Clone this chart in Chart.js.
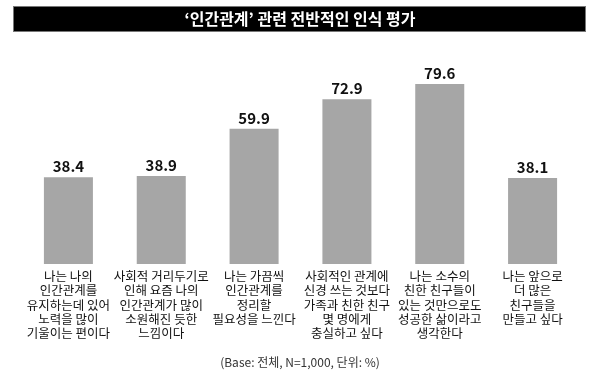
<!DOCTYPE html>
<html>
<head>
<meta charset="utf-8">
<script src="https://cdn.jsdelivr.net/npm/chart.js@4/dist/chart.umd.min.js"></script>
<style>
html,body{margin:0;padding:0;background:#fff;}
#wrap{width:600px;height:384px;position:relative;}
</style>
</head>
<body>
<div id="wrap"><canvas id="c" width="600" height="384"></canvas></div>
<script>
const titleText = "‘인간관계’ 관련 전반적인 인식 평가";
const footnoteText = "(Base: 전체, N=1,000, 단위: %)";
const categories = [
  ["나는 나의", "인간관계를", "유지하는데 있어", "노력을 많이", "기울이는 편이다"],
  ["사회적 거리두기로", "인해 요즘 나의", "인간관계가 많이", "소원해진 듯한", "느낌이다"],
  ["나는 가끔씩", "인간관계를", "정리할", "필요성을 느낀다"],
  ["사회적인 관계에", "신경 쓰는 것보다", "가족과 친한 친구", "몇 명에게", "충실하고 싶다"],
  ["나는 소수의", "친한 친구들이", "있는 것만으로도", "성공한 삶이라고", "생각한다"],
  ["나는 앞으로", "더 많은", "친구들을", "만들고 싶다"]
];
const values = [38.4, 38.9, 59.9, 72.9, 79.6, 38.1];

const KR = '"Noto Sans CJK KR", "Noto Sans", sans-serif';

const decor = {
  id: 'decor',
  beforeDraw(chart) {
    const ctx = chart.ctx;
    ctx.save();
    ctx.fillStyle = '#000';
    ctx.fillRect(13, 6, 573, 26);
    ctx.strokeStyle = '#777';
    ctx.lineWidth = 1;
    ctx.strokeRect(13.5, 6.5, 572, 25);
    ctx.fillStyle = '#fff';
    ctx.font = 'bold 16px ' + KR;
    ctx.textAlign = 'center';
    ctx.textBaseline = 'middle';
    ctx.fillText(titleText, 300, 19);
    ctx.fillStyle = '#333';
    ctx.font = '12px ' + KR;
    ctx.fillText(footnoteText, 300, 362);
    ctx.restore();
  },
  afterDatasetsDraw(chart) {
    const ctx = chart.ctx;
    const meta = chart.getDatasetMeta(0);
    ctx.save();
    ctx.fillStyle = '#111';
    ctx.font = 'bold 15px ' + KR;
    ctx.textAlign = 'center';
    ctx.textBaseline = 'bottom';
    meta.data.forEach((bar, i) => {
      ctx.fillText(values[i].toFixed(1), bar.x, bar.y - 3);
    });
    ctx.restore();
  }
};

new Chart(document.getElementById('c'), {
  type: 'bar',
  data: {
    labels: categories,
    datasets: [{
      data: values,
      backgroundColor: '#a6a6a6',
      borderWidth: 0,
      categoryPercentage: 1,
      barPercentage: 0.528
    }]
  },
  options: {
    responsive: false,
    animation: false,
    layout: { padding: { top: 38, left: 22, right: 21, bottom: 0 } },
    plugins: { legend: { display: false }, tooltip: { enabled: false }, title: { display: false } },
    scales: {
      y: { display: false, min: 0, max: 100 },
      x: {
        grid: { display: false, drawTicks: false },
        border: { display: false },
        ticks: {
          color: '#111',
          font: { family: KR, size: 12.5, lineHeight: '14.3px' },
          padding: 5,
          maxRotation: 0,
          autoSkip: false
        },
        afterFit(scale) { scale.height = 120; }
      }
    }
  },
  plugins: [decor]
});
</script>
</body>
</html>
